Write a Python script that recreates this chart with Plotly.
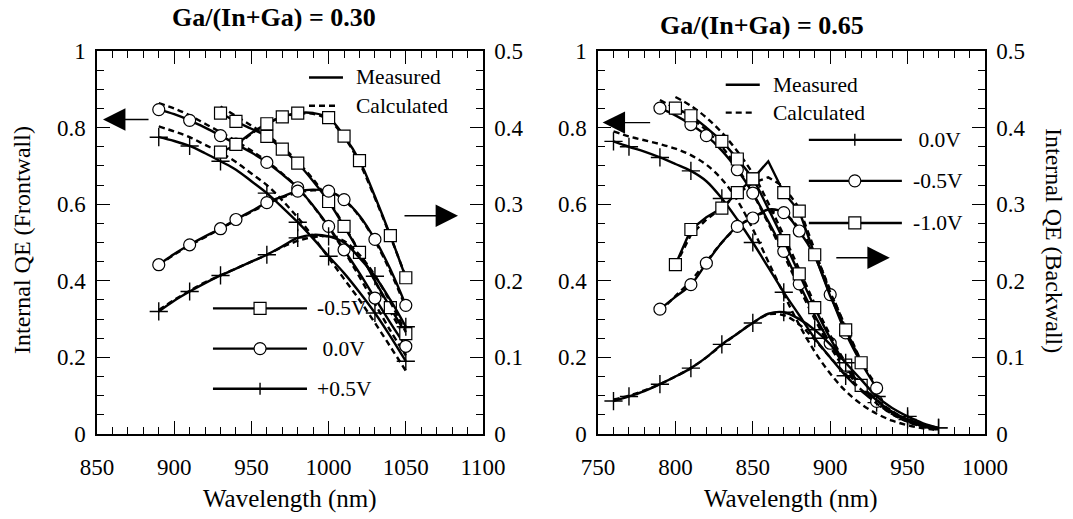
import numpy as np
import plotly.graph_objects as go

FONT = "Times New Roman, Liberation Serif, serif"

# ---------------- Ga/(In+Ga) = 0.30 ----------------
wl_a = list(range(890, 1051, 10))
wl_a_short = list(range(930, 1051, 10))

# Frontwall internal QE (left axis)
fw_a_n05_meas = [0.838, 0.816, 0.797, 0.777, 0.744, 0.707, 0.660, 0.607, 0.542, 0.474, 0.400, 0.330, 0.262]
fw_a_n05_calc = [0.855, 0.830, 0.805, 0.780, 0.750, 0.710, 0.665, 0.610, 0.545, 0.475, 0.400, 0.320, 0.250]
fw_a_00_meas = [0.847, 0.835, 0.819, 0.800, 0.779, 0.757, 0.735, 0.709, 0.678, 0.643, 0.596, 0.542, 0.481, 0.420, 0.355, 0.290, 0.229]
fw_a_00_calc = [0.864, 0.850, 0.832, 0.810, 0.788, 0.765, 0.740, 0.712, 0.680, 0.643, 0.595, 0.540, 0.478, 0.410, 0.340, 0.270, 0.205]
fw_a_p05_meas = [0.775, 0.765, 0.752, 0.733, 0.712, 0.690, 0.660, 0.629, 0.592, 0.553, 0.510, 0.464, 0.420, 0.370, 0.316, 0.255, 0.190]
fw_a_p05_calc = [0.803, 0.790, 0.775, 0.755, 0.735, 0.710, 0.680, 0.650, 0.610, 0.565, 0.515, 0.460, 0.405, 0.350, 0.290, 0.228, 0.165]

# Backwall internal QE (right axis)
bw_a_n05_meas = [0.368, 0.378, 0.393, 0.405, 0.414, 0.419, 0.419, 0.413, 0.389, 0.357, 0.310, 0.259, 0.204]
bw_a_n05_calc = [0.365, 0.376, 0.392, 0.405, 0.414, 0.418, 0.418, 0.410, 0.388, 0.354, 0.308, 0.258, 0.205]
bw_a_00_meas = [0.221, 0.235, 0.247, 0.258, 0.268, 0.280, 0.291, 0.302, 0.310, 0.317, 0.319, 0.317, 0.306, 0.285, 0.254, 0.215, 0.168]
bw_a_00_calc = [0.220, 0.234, 0.246, 0.257, 0.268, 0.279, 0.290, 0.300, 0.309, 0.315, 0.318, 0.316, 0.305, 0.284, 0.252, 0.212, 0.165]
bw_a_p05_meas = [0.160, 0.174, 0.186, 0.197, 0.207, 0.216, 0.225, 0.234, 0.245, 0.256, 0.260, 0.258, 0.250, 0.230, 0.206, 0.175, 0.140]
bw_a_p05_calc = [0.162, 0.175, 0.187, 0.198, 0.207, 0.216, 0.225, 0.234, 0.244, 0.252, 0.257, 0.258, 0.252, 0.234, 0.207, 0.172, 0.133]

marks_a_n05 = [930, 940, 960, 970, 980, 1000, 1010, 1020, 1040, 1050]
marks_a_00 = [890, 910, 930, 940, 960, 980, 1000, 1010, 1030, 1050]
marks_a_p05 = [890, 910, 930, 960, 980, 1000, 1030, 1050]

# ---------------- Ga/(In+Ga) = 0.65 ----------------
wl_b_00 = list(range(760, 971, 10))
wl_b_n05 = list(range(790, 971, 10))
wl_b_n10 = list(range(800, 971, 10))
wl_b_bw_n05 = list(range(790, 931, 10))
wl_b_bw_n10 = list(range(800, 921, 10))

fw_b_00_meas = [0.764, 0.750, 0.737, 0.722, 0.705, 0.687, 0.660, 0.615, 0.560, 0.500, 0.435, 0.370, 0.310,
                0.250, 0.200, 0.152, 0.113, 0.082, 0.057, 0.038, 0.025, 0.016]
fw_b_00_calc = [0.790, 0.777, 0.767, 0.757, 0.745, 0.728, 0.703, 0.665, 0.610, 0.535, 0.450, 0.365, 0.285,
                0.215, 0.158, 0.112, 0.078, 0.053, 0.035, 0.023, 0.015, 0.010]
fw_b_n05_meas = [0.851, 0.832, 0.808, 0.779, 0.740, 0.690, 0.629, 0.555, 0.477, 0.392, 0.310, 0.237, 0.175,
                 0.124, 0.085, 0.055, 0.034, 0.020, 0.012]
fw_b_n05_calc = [0.872, 0.850, 0.825, 0.793, 0.750, 0.695, 0.628, 0.550, 0.468, 0.382, 0.300, 0.228, 0.167,
                 0.118, 0.080, 0.052, 0.032, 0.019, 0.011]
fw_b_n10_meas = [0.851, 0.831, 0.800, 0.764, 0.718, 0.666, 0.588, 0.505, 0.418, 0.330, 0.250, 0.180, 0.127,
                 0.088, 0.058, 0.036, 0.021, 0.013]
fw_b_n10_calc = [0.880, 0.857, 0.826, 0.787, 0.738, 0.680, 0.603, 0.518, 0.430, 0.340, 0.258, 0.186, 0.130,
                 0.090, 0.060, 0.037, 0.022, 0.013]

bw_b_00_meas = [0.043, 0.049, 0.056, 0.065, 0.075, 0.086, 0.100, 0.117, 0.131, 0.145, 0.157, 0.159, 0.150,
                0.136, 0.117, 0.093, 0.071, 0.049, 0.034, 0.023, 0.014, 0.008]
bw_b_00_calc = [0.045, 0.050, 0.057, 0.065, 0.075, 0.086, 0.100, 0.116, 0.131, 0.145, 0.156, 0.155, 0.143,
                0.123, 0.100, 0.078, 0.058, 0.040, 0.026, 0.016, 0.010, 0.006]
bw_b_n05_meas = [0.163, 0.179, 0.195, 0.223, 0.250, 0.271, 0.282, 0.293, 0.289, 0.265, 0.232, 0.182, 0.132,
                 0.093, 0.060]
bw_b_n05_calc = [0.160, 0.180, 0.200, 0.225, 0.250, 0.270, 0.283, 0.290, 0.288, 0.268, 0.235, 0.188, 0.138,
                 0.095, 0.063]
bw_b_n10_meas = [0.221, 0.267, 0.283, 0.295, 0.315, 0.333, 0.356, 0.315, 0.291, 0.234, 0.180, 0.136, 0.093]
bw_b_n10_calc = [0.220, 0.260, 0.280, 0.295, 0.313, 0.328, 0.335, 0.323, 0.295, 0.240, 0.185, 0.140, 0.095]

marks_b_00 = [760, 770, 790, 810, 830, 850, 870, 890, 910, 930, 950, 970]
marks_b_n05 = [790, 810, 820, 840, 850, 870, 880, 900, 910, 930]
marks_b_n10 = [800, 810, 830, 840, 850, 870, 880, 890, 910, 920]

fig = go.Figure()


def add_set(wl, meas, calc, marks, symbol, xa, ya, shape="spline"):
    fig.add_trace(go.Scatter(x=wl, y=calc, xaxis=xa, yaxis=ya, mode="lines",
                             line=dict(color="black", width=2.4, dash="6px,4px", shape=shape),
                             hoverinfo="skip"))
    fig.add_trace(go.Scatter(x=wl, y=meas, xaxis=xa, yaxis=ya, mode="lines",
                             line=dict(color="black", width=2.4, shape=shape), hoverinfo="skip"))
    mx = [w for w in wl if w in marks]
    my = [v for w, v in zip(wl, meas) if w in marks]
    if symbol == "cross-thin":
        mk = dict(symbol="cross-thin", size=13, line=dict(color="black", width=1.4))
    else:
        mk = dict(symbol=symbol, size=12, color="white", line=dict(color="black", width=1.2))
    fig.add_trace(go.Scatter(x=mx, y=my, xaxis=xa, yaxis=ya, mode="markers", marker=mk,
                             hoverinfo="skip"))


# left cell
add_set(wl_a, fw_a_p05_meas, fw_a_p05_calc, marks_a_p05, "cross-thin", "x", "y")
add_set(wl_a, fw_a_00_meas, fw_a_00_calc, marks_a_00, "circle", "x", "y")
add_set(wl_a_short, fw_a_n05_meas, fw_a_n05_calc, marks_a_n05, "square", "x", "y")
add_set(wl_a, bw_a_p05_meas, bw_a_p05_calc, marks_a_p05, "cross-thin", "x", "y2")
add_set(wl_a, bw_a_00_meas, bw_a_00_calc, marks_a_00, "circle", "x", "y2")
add_set(wl_a_short, bw_a_n05_meas, bw_a_n05_calc, marks_a_n05, "square", "x", "y2")

# right cell
add_set(wl_b_00, fw_b_00_meas, fw_b_00_calc, marks_b_00, "cross-thin", "x2", "y3")
add_set(wl_b_n05, fw_b_n05_meas, fw_b_n05_calc, marks_b_n05, "circle", "x2", "y3")
add_set(wl_b_n10, fw_b_n10_meas, fw_b_n10_calc, marks_b_n10, "square", "x2", "y3")
add_set(wl_b_00, bw_b_00_meas, bw_b_00_calc, marks_b_00, "cross-thin", "x2", "y4")
add_set(wl_b_bw_n05, bw_b_n05_meas, bw_b_n05_calc, marks_b_n05, "circle", "x2", "y4")
add_set(wl_b_bw_n10, bw_b_n10_meas, bw_b_n10_calc, marks_b_n10, "square", "x2", "y4", shape="linear")

tickfont = dict(family=FONT, size=23, color="black")


def xaxis(domain, rng, anchor):
    return dict(domain=domain, range=rng, anchor=anchor, showline=True, linecolor="black",
                linewidth=1.5, mirror="ticks", ticks="inside", ticklen=13, tickwidth=1.4,
                tickcolor="black", dtick=50, tick0=0, showgrid=False, zeroline=False,
                tickfont=tickfont, ticklabelstandoff=12,
                minor=dict(ticks="inside", ticklen=7, tickwidth=1.2, dtick=10, tickcolor="black",
                           showgrid=False))


def yaxis(anchor, rng, dtick, mdtick, side="left", overlay=None):
    d = dict(range=rng, anchor=anchor, side=side, showline=True, linecolor="black",
             linewidth=1.5, ticks="inside", ticklen=13, tickwidth=1.4, tickcolor="black",
             dtick=dtick, tick0=0, showgrid=False, zeroline=False, tickfont=tickfont,
             ticklabelstandoff=5,
             minor=dict(ticks="inside", ticklen=7, tickwidth=1.2, dtick=mdtick, tickcolor="black",
                        showgrid=False))
    if overlay:
        d["overlaying"] = overlay
    return d


fig.update_layout(
    width=1073, height=519,
    margin=dict(l=97, r=88, t=51, b=85),
    paper_bgcolor="white", plot_bgcolor="white",
    showlegend=False,
    font=dict(family=FONT, color="black"),
    xaxis=xaxis([0, 0.4347], [850, 1100], "y"),
    xaxis2=xaxis([0.5642, 1], [750, 1000], "y3"),
    yaxis=yaxis("x", [0, 1], 0.2, 0.05),
    yaxis2=yaxis("x", [0, 0.5], 0.1, 0.025, side="right", overlay="y"),
    yaxis3=yaxis("x2", [0, 1], 0.2, 0.05),
    yaxis4=yaxis("x2", [0, 0.5], 0.1, 0.025, side="right", overlay="y3"),
)

ann = []
shapes = []


def px_x(px):
    return (px - 97) / 888


def px_y(py):
    return (434 - py) / 383


def label(txt, x, y, size, angle=0):
    ann.append(dict(text=txt, x=px_x(x), y=px_y(y), textangle=angle, xref="paper", yref="paper",
                    xanchor="center", yanchor="middle", showarrow=False,
                    font=dict(size=size, family=FONT, color="black")))


# titles and axis titles
label("<b>Ga/(In+Ga) = 0.30</b>", 274, 17, 26)
label("<b>Ga/(In+Ga) = 0.65</b>", 762, 25, 26)
label("Wavelength (nm)", 290, 499, 25)
label("Wavelength (nm)", 791, 499, 25)
label("Internal QE (Frontwall)", 22, 240, 24, -90)
label("Internal QE (Backwall)", 1054, 240, 24, 90)

# axis arrows
arrow = dict(showarrow=True, arrowhead=2, arrowsize=3.2, arrowwidth=1.4, arrowcolor="black", text="")
ann.append(dict(arrow, x=853.9, y=0.821, xref="x", yref="y", ax=47, ay=0))
ann.append(dict(arrow, x=1083.8, y=0.57, xref="x", yref="y", ax=-55, ay=0))
ann.append(dict(arrow, x=753.0, y=0.813, xref="x2", yref="y3", ax=49, ay=0))
ann.append(dict(arrow, x=938.5, y=0.46, xref="x2", yref="y3", ax=-55, ay=0))


def key_line(xa, ya, x0, x1, y, dash=None):
    shapes.append(dict(type="line", xref=xa, yref=ya, x0=x0, x1=x1, y0=y, y1=y,
                       line=dict(color="black", width=2.4, dash=dash)))


def key_text(xa, ya, x, y, txt):
    ann.append(dict(text=txt, x=x, y=y, xref=xa, yref=ya, xanchor="left", yanchor="middle",
                    showarrow=False, font=dict(size=21.5, family=FONT, color="black")))


def key_marker(xa, ya, x, y, symbol):
    base = dict(xref=xa, yref=ya, xsizemode="pixel", ysizemode="pixel", xanchor=x, yanchor=y)
    if symbol == "cross-thin":
        shapes.append(dict(base, type="line", x0=-6, x1=6, y0=0, y1=0, line=dict(color="black", width=1.4)))
        shapes.append(dict(base, type="line", x0=0, x1=0, y0=-6, y1=6, line=dict(color="black", width=1.4)))
    else:
        shapes.append(dict(base, type="rect" if symbol == "square" else "circle", x0=-6, x1=6, y0=-6, y1=6,
                           fillcolor="white", line=dict(color="black", width=1.2)))


# keys, left cell
key_line("x", "y", 987.3, 1009.3, 0.931)
key_text("x", "y", 1016.5, 0.931, "Measured")
key_line("x", "y", 987.3, 1006.0, 0.857, dash="6px,4px")
key_text("x", "y", 1016.5, 0.857, "Calculated")
for y, sym, txt in [(0.328, "square", "-0.5V"), (0.223, "circle", " 0.0V"), (0.118, "cross-thin", "+0.5V")]:
    key_line("x", "y", 925.1, 986.0, y)
    key_marker("x", "y", 955.6, y, sym)
    key_text("x", "y", 991.0, y, txt)

# keys, right cell
key_line("x2", "y3", 832.5, 854.5, 0.912)
key_text("x2", "y3", 861.5, 0.912, "Measured")
key_line("x2", "y3", 832.5, 851.3, 0.839, dash="6px,4px")
key_text("x2", "y3", 861.5, 0.839, "Calculated")
for y, sym, txt in [(0.768, "cross-thin", " 0.0V"), (0.661, "circle", "-0.5V"), (0.551, "square", "-1.0V")]:
    key_line("x2", "y3", 886.2, 946.3, y)
    key_marker("x2", "y3", 915.9, y, sym)
    key_text("x2", "y3", 952.5, y, txt)

fig.update_layout(annotations=ann, shapes=shapes)
fig.write_html("out.html")
